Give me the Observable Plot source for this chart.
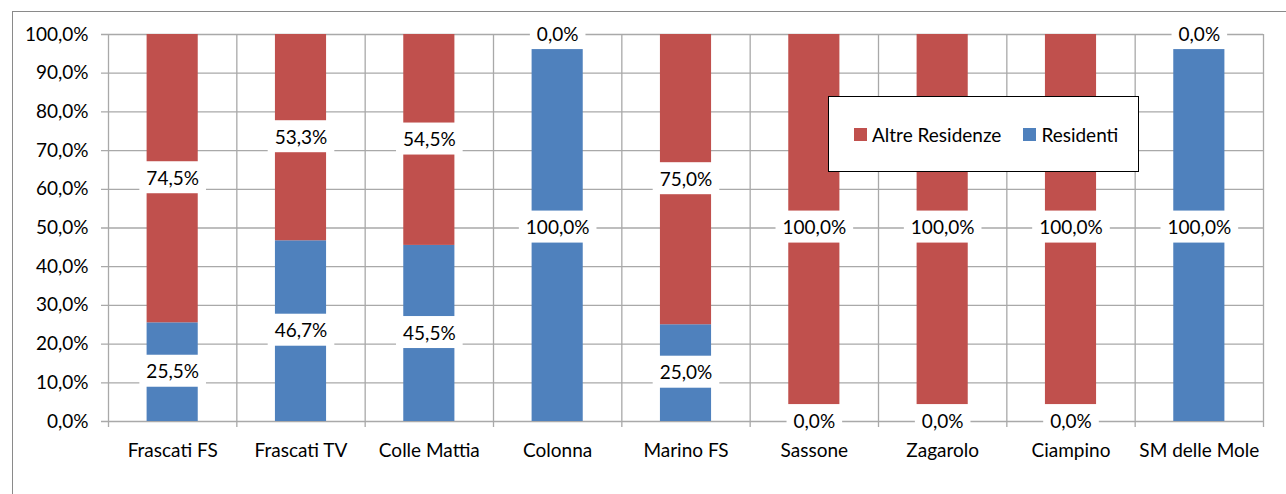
<!DOCTYPE html>
<html>
<head>
<meta charset="utf-8">
<script src="https://cdn.jsdelivr.net/npm/d3@7"></script>
<script src="https://cdn.jsdelivr.net/npm/@observablehq/plot@0.6"></script>
<style>
  html, body { margin: 0; padding: 0; background: #fff; overflow: hidden; }
  body { width: 1286px; height: 494px; position: relative; font-family: Lato, "Noto Sans", sans-serif; }
  #frame { position: absolute; left: 12px; top: 11px; width: 1300px; height: 520px; border: 1px solid #8a8a8a; box-sizing: border-box; pointer-events: none; }
  #chart { position: absolute; left: 0; top: 0; }
  #legend { position: absolute; left: 828px; top: 96px; width: 311px; height: 76px; border: 1.5px solid #000; box-sizing: border-box; background: #fff;
            display: flex; align-items: center; font-size: 19px; color: #000; }
  .item { display: flex; align-items: center; }
  .sw { width: 13px; height: 13px; display: inline-block; margin-right: 5px; }
</style>
</head>
<body>
<div id="frame"></div>
<div id="chart"></div>
<div id="legend"></div>
<script>
const categories = ["Frascati FS", "Frascati TV", "Colle Mattia", "Colonna", "Marino FS", "Sassone", "Zagarolo", "Ciampino", "SM delle Mole"];
const residenti = [25.5, 46.7, 45.5, 100.0, 25.0, 0.0, 0.0, 0.0, 100.0];
const altreResidenze = [74.5, 53.3, 54.5, 0.0, 75.0, 100.0, 100.0, 100.0, 0.0];
const seriesNames = ["Altre Residenze", "Residenti"];
const seriesColors = ["#C0504D", "#4F81BD"];
const yTicks = [0, 10, 20, 30, 40, 50, 60, 70, 80, 90, 100];

const fmt = v => v.toFixed(1).replace(".", ",") + "%";

const rows = [];
categories.forEach((cat, i) => {
  const r = residenti[i], a = altreResidenze[i];
  rows.push({i, cat, series: "Residenti", value: r, y1: 0, y2: r});
  rows.push({i, cat, series: "Altre Residenze", value: a, y1: r, y2: r + a});
});
const boundaries = d3.range(0, categories.length + 1);
const centers = categories.map((_, i) => i + 0.5);

const grid = "#a9a9a9";
const plot = Plot.plot({
  width: 1286,
  height: 494,
  marginLeft: 108,
  marginRight: 23,
  marginTop: 34,
  marginBottom: 73,
  style: {fontFamily: "Lato, 'Noto Sans', sans-serif", fontSize: "19px", color: "#000", background: "transparent"},
  x: {domain: [0, categories.length], label: null},
  y: {domain: [0, 100], label: null},
  color: {domain: seriesNames, range: seriesColors},
  marks: [
    Plot.ruleY(yTicks, {stroke: grid, strokeWidth: 1.3, insetLeft: -7}),
    Plot.ruleX(boundaries, {stroke: grid, strokeWidth: 1.3, insetBottom: -6}),
    Plot.rectY(rows, {x1: "i", x2: d => d.i + 1, y1: "y1", y2: "y2", fill: "series", insetLeft: 38.6, insetRight: 38.6}),
    Plot.axisY({ticks: yTicks, tickFormat: fmt, tickSize: 0, tickPadding: 20, fontSize: 19, fill: "#000", label: null}),
    Plot.axisX({ticks: centers, tickFormat: t => categories[Math.floor(t)], tickSize: 0, tickPadding: 22, fontSize: 19, fill: "#000", label: null}),
    Plot.text(rows, {x: d => d.i + 0.5, y: d => (d.y1 + d.y2) / 2, text: d => fmt(d.value), fontSize: 19, fill: "#000"})
  ]
});
document.getElementById("chart").appendChild(plot);

// white boxes behind segment labels
const svgNS = "http://www.w3.org/2000/svg";
plot.querySelectorAll('g[aria-label="text"] text').forEach(t => {
  const b = t.getBBox();
  const padX = 7, h = 32;
  const rect = document.createElementNS(svgNS, "rect");
  rect.setAttribute("x", b.x - padX);
  rect.setAttribute("y", b.y + b.height / 2 - h / 2);
  rect.setAttribute("width", b.width + 2 * padX);
  rect.setAttribute("height", h);
  rect.setAttribute("fill", "#fff");
  rect.setAttribute("stroke", "none");
  const tr = t.getAttribute("transform");
  if (tr) rect.setAttribute("transform", tr);
  t.parentNode.insertBefore(rect, t);
});

// legend
const legend = document.getElementById("legend");
seriesNames.forEach((name, k) => {
  const item = document.createElement("div");
  item.className = "item";
  item.style.marginLeft = k === 0 ? "25px" : "22px";
  const sw = document.createElement("span");
  sw.className = "sw";
  sw.style.background = seriesColors[k];
  const lab = document.createElement("span");
  lab.textContent = name;
  item.appendChild(sw);
  item.appendChild(lab);
  legend.appendChild(item);
});
</script>
</body>
</html>
